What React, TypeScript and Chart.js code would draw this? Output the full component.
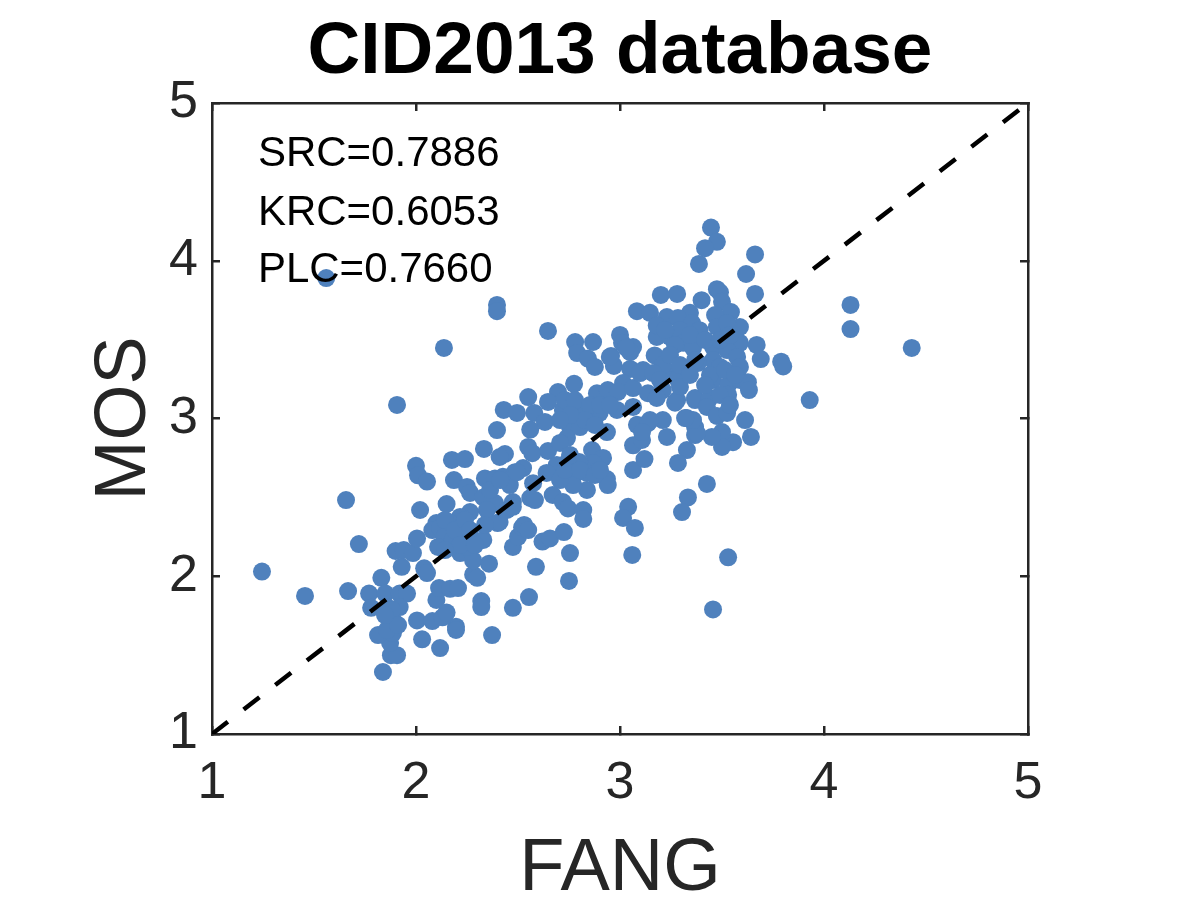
import { useEffect, useRef } from "react"
import { Chart, registerables } from "chart.js"

Chart.register(...registerables)

const fangScores = [
  1.245, 1.456, 1.667, 1.657, 1.72, 1.56, 1.907, 2.137, 2.397, 2.397,
  2.647, 3.446, 3.475, 3.417, 3.387, 3.662, 3.618, 3.662, 4.13, 4.13,
  4.43, 3.93, 3.79, 3.8, 3.456, 3.53, 3.06, 1.838, 1.877, 1.907,
  1.873, 1.814, 1.887, 2.03, 2.118, 2.196, 2.196, 2.373, 2.32, 2.32,
  2.475, 1.77, 1.78, 1.83, 1.85, 1.92, 1.956, 1.858, 1.92, 1.887,
  1.858, 2.005, 2.08, 2.13, 2.15, 2.1, 2.113, 2.167, 2.206, 2.04,
  2.054, 1.93, 1.9, 1.94, 1.985, 2.005, 2.28, 2.3, 2.358, 2.15,
  2.02, 2.0, 2.01, 2.054, 2.176, 2.24, 2.333, 2.397, 2.436, 2.41,
  2.186, 2.25, 2.265, 2.338, 2.387, 2.426, 2.485, 2.46, 2.33, 2.387,
  2.475, 2.446, 2.348, 2.265, 2.216, 2.167, 2.1, 2.08, 2.118, 2.14,
  2.108, 2.18, 2.25, 2.33, 2.216, 2.28, 2.25, 2.4, 2.475, 2.5,
  2.52, 2.55, 2.775, 2.696, 2.647, 2.43, 2.495, 2.58, 2.632, 2.56,
  2.55, 2.57, 2.647, 2.78, 2.868, 2.79, 2.843, 2.877, 2.956, 2.97,
  3.0, 3.01, 3.064, 3.05, 3.05, 3.113, 3.17, 3.18, 2.887, 2.94,
  3.015, 2.99, 3.064, 3.137, 3.21, 3.284, 3.26, 3.28, 3.368, 2.755,
  2.804, 2.72, 2.77, 2.838, 2.9, 2.985, 3.064, 2.755, 2.804, 2.936,
  2.74, 2.706, 2.863, 2.917, 2.868, 2.8, 2.74, 2.69, 2.64, 2.77,
  2.838, 2.936, 2.94, 2.838, 2.77, 2.706, 2.574, 2.56, 2.583, 2.67,
  2.72, 2.745, 2.82, 2.82, 2.525, 2.495, 2.475, 2.41, 2.53, 2.55,
  2.62, 2.657, 2.725, 2.755, 2.588, 2.75, 2.554, 3.04, 3.015, 3.073,
  3.064, 3.12, 3.064, 3.108, 3.083, 3.137, 3.21, 3.23, 3.328, 3.284,
  3.333, 3.304, 3.328, 3.368, 3.368, 3.67, 3.69, 3.475, 3.49, 3.4,
  3.5, 3.544, 3.466, 3.343, 3.2, 3.28, 3.083, 3.147, 3.23, 3.284,
  3.588, 3.353, 3.18, 3.245, 3.294, 3.39, 3.475, 3.525, 3.31, 3.358,
  3.456, 3.588, 3.525, 3.574, 3.456, 3.49, 3.588, 3.382, 3.21, 3.098,
  3.284, 3.294, 3.162, 3.456, 3.53, 3.588, 3.627, 3.632, 3.53, 3.368,
  3.44, 3.426, 3.475, 3.525, 3.613, 3.642, 3.554, 3.5, 3.5, 3.45,
  3.377, 3.358, 3.319, 3.27, 3.147, 3.108, 3.426, 3.18, 2.95, 3.03,
  2.73, 2.779, 2.853, 2.902, 2.951, 2.828, 2.877, 2.755, 2.706, 2.73,
  2.804, 2.877, 2.902, 2.755, 2.142, 2.191, 2.24, 2.265, 2.216, 2.142,
  2.289, 2.338, 2.363, 2.412, 3.221, 3.27, 3.343, 3.417, 3.49, 3.539,
  3.368, 3.441, 3.515, 3.564, 3.245, 3.294, 3.417, 3.49, 3.539, 3.196,
  3.343, 1.882, 1.912, 1.848,
]

const mosScores = [
  2.03, 1.875, 1.906, 2.483, 2.204, 3.89, 3.086, 3.447, 3.72, 3.68,
  3.555, 4.21, 4.12, 4.08, 3.98, 4.04, 3.916, 3.79, 3.72, 3.567,
  3.447, 3.117, 3.36, 3.33, 1.79, 2.12, 2.135, 1.393, 1.5, 1.5,
  1.577, 1.627, 1.64, 1.6, 1.545, 1.68, 1.66, 1.627, 1.843, 1.805,
  1.8, 1.89, 1.8, 1.99, 1.89, 1.89, 1.89, 1.805, 1.805, 1.72,
  1.66, 1.72, 1.716, 1.74, 1.77, 1.85, 1.925, 1.92, 1.925, 2.05,
  2.02, 2.06, 2.16, 2.166, 2.147, 2.24, 2.01, 1.99, 2.08, 2.458,
  2.42, 2.7, 2.64, 2.6, 2.737, 2.743, 2.807, 2.927, 2.775, 2.756,
  2.61, 2.566, 2.528, 2.62, 2.62, 2.63, 2.66, 2.578, 2.5, 2.464,
  2.47, 2.42, 2.42, 2.407, 2.376, 2.337, 2.337, 2.293, 2.306, 2.25,
  2.186, 2.23, 2.26, 2.23, 2.147, 2.1, 2.186, 2.337, 2.186, 2.25,
  2.31, 3.136, 3.22, 3.168, 3.105, 3.054, 3.035, 3.035, 2.978, 2.93,
  2.82, 2.78, 2.794, 3.485, 3.485, 3.415, 3.38, 3.327, 3.396, 3.333,
  3.53, 3.48, 3.453, 3.42, 3.314, 3.307, 3.4, 3.517, 3.16, 3.18,
  3.225, 3.168, 3.193, 3.16, 3.18, 3.244, 3.288, 3.117, 3.117, 3.098,
  3.067, 3.054, 3.01, 3.035, 3.035, 3.054, 3.073, 2.946, 2.946, 2.914,
  2.876, 2.845, 2.8, 2.75, 2.718, 2.724, 2.718, 2.705, 2.655, 2.63,
  2.655, 2.616, 2.578, 2.547, 2.578, 2.61, 2.59, 2.496, 2.483, 2.515,
  2.47, 2.43, 2.42, 2.363, 2.686, 2.66, 2.44, 2.344, 2.325, 2.293,
  2.22, 2.24, 2.28, 2.147, 2.06, 1.97, 1.868, 2.44, 2.37, 2.306,
  2.674, 2.743, 2.83, 2.864, 2.96, 2.97, 2.99, 2.883, 2.8, 2.718,
  2.5, 2.407, 3.003, 2.946, 2.895, 3.466, 3.377, 3.82, 3.8, 3.75,
  3.74, 3.675, 3.656, 3.67, 3.783, 3.79, 3.68, 3.67, 3.643, 3.637,
  3.58, 3.605, 3.59, 3.517, 3.56, 3.56, 3.58, 3.605, 3.48, 3.447,
  3.453, 3.48, 3.434, 3.39, 3.37, 3.327, 3.327, 3.352, 3.34, 3.288,
  3.257, 3.2, 3.288, 3.244, 3.212, 3.244, 3.23, 3.18, 3.15, 3.13,
  3.13, 3.073, 3.016, 3.035, 2.99, 2.883, 2.85, 2.914, 2.82, 2.883,
  2.908, 2.99, 3.003, 3.1, 2.99, 2.914, 2.585, 3.13, 3.39, 3.45,
  3.117, 3.117, 3.086, 3.086, 3.086, 2.99, 2.959, 3.022, 2.99, 2.674,
  2.674, 2.642, 2.674, 2.769, 2.357, 2.293, 2.357, 2.293, 2.198, 2.166,
  2.198, 2.325, 2.547, 2.61, 3.561, 3.466, 3.529, 3.498, 3.498, 3.529,
  3.371, 3.276, 3.307, 3.276, 3.403, 3.339, 3.212, 3.149, 3.086, 3.244,
  3.276, 1.786, 1.691, 1.754,
]

const identityLine = [1, 5]
const statLabels = ["SRC=0.7886", "KRC=0.6053", "PLC=0.7660"]
const statLabelY = [4.674, 4.3, 3.938]
const statLabelX = 1.225

const axisColor = "#262626"

// correlation values sit on top of everything, as in the original figure
const statLabelsPlugin = {
  id: "statLabels",
  afterDraw(chart: Chart) {
    const { ctx, scales } = chart
    ctx.save()
    ctx.fillStyle = "#000000"
    ctx.font = '42px "Liberation Sans"'
    ctx.textAlign = "left"
    ctx.textBaseline = "middle"
    statLabels.forEach((label, i) => {
      ctx.fillText(label, scales.x.getPixelForValue(statLabelX), scales.y.getPixelForValue(statLabelY[i]))
    })
    ctx.restore()
  },
}

function axisBase(position: string) {
  return {
    type: "linear" as const,
    position,
    min: 1,
    max: 5,
    border: { display: true, color: axisColor, width: 2.5 },
    grid: {
      display: true,
      drawOnChartArea: false,
      drawTicks: true,
      color: axisColor,
      lineWidth: 2.5,
      tickLength: -8,
    },
  }
}

const tickFont = { family: '"Liberation Sans"', size: 52 }

export default function App() {
  const chartRef = useRef<HTMLCanvasElement>(null)

  useEffect(() => {
    if (!chartRef.current) return

    const chart = new Chart(chartRef.current, {
      type: "scatter",
      data: {
        datasets: [
          {
            type: "line",
            label: "y = x",
            data: identityLine.map((v) => ({ x: v, y: v })),
            borderColor: "#000000",
            borderWidth: 4.5,
            borderDash: [20, 20],
            pointRadius: 0,
            showLine: true,
            fill: false,
          },
          {
            label: "FANG",
            data: fangScores.map((x, i) => ({ x, y: mosScores[i] })),
            backgroundColor: "#4f81bd",
            borderWidth: 0,
            pointRadius: 9,
            showLine: false,
          },
        ],
      },
      options: {
        responsive: false,
        animation: false,
        devicePixelRatio: 1,
        layout: { padding: 0 },
        plugins: {
          legend: { display: false },
          tooltip: { enabled: false },
          title: {
            display: true,
            fullSize: false,
            text: "CID2013 database",
            color: "#000000",
            font: { family: '"Liberation Sans"', size: 73, weight: "bold", lineHeight: 1 },
            padding: { top: 16, bottom: 14 },
          },
        },
        scales: {
          x: {
            ...axisBase("bottom"),
            title: {
              display: true,
              text: "FANG",
              color: axisColor,
              font: { family: '"Liberation Sans"', size: 74, lineHeight: 1 },
              padding: { top: 0, bottom: -7 },
            },
            ticks: { stepSize: 1, color: axisColor, font: tickFont, padding: 26, maxRotation: 0, autoSkip: false },
            afterFit: (scale) => {
              scale.height = 166
            },
          },
          y: {
            ...axisBase("left"),
            title: {
              display: true,
              text: "MOS",
              color: axisColor,
              font: { family: '"Liberation Sans"', size: 72, lineHeight: 1 },
              padding: { top: 89, bottom: 0 },
            },
            ticks: { stepSize: 1, color: axisColor, font: tickFont, padding: 22, autoSkip: false },
            afterFit: (scale) => {
              scale.width = 212
            },
          },
          x2: {
            ...axisBase("top"),
            ticks: { stepSize: 1, display: false },
            afterFit: (scale) => {
              scale.height = 0
            },
          },
          y2: {
            ...axisBase("right"),
            ticks: { stepSize: 1, display: false },
            afterFit: (scale) => {
              scale.width = 172
            },
          },
        },
      },
      plugins: [statLabelsPlugin],
    })

    return () => {
      chart.destroy()
    }
  }, [])

  return (
    <div style={{ position: "absolute", left: 0, top: 0, width: 1200, height: 900, background: "#ffffff" }}>
      <canvas ref={chartRef} width={1200} height={900} style={{ display: "block" }} />
    </div>
  )
}
